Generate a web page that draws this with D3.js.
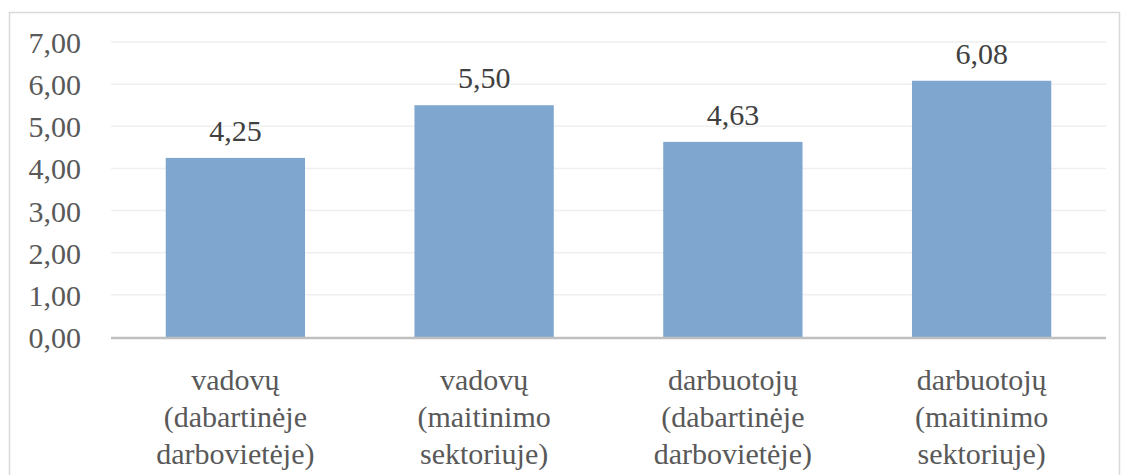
<!DOCTYPE html>
<html>
<head>
<meta charset="utf-8">
<script src="https://cdn.jsdelivr.net/npm/d3@7"></script>
</head>
<body style="margin:0">
<svg id="chart" width="1121" height="475"></svg>
<script>
// Average scores by group
const categories = [
  ["vadovų", "(dabartinėje", "darbovietėje)"],
  ["vadovų", "(maitinimo", "sektoriuje)"],
  ["darbuotojų", "(dabartinėje", "darbovietėje)"],
  ["darbuotojų", "(maitinimo", "sektoriuje)"]
];
const values = [4.25, 5.50, 4.63, 6.08];
const yTicks = [0, 1, 2, 3, 4, 5, 6, 7];

const svg = d3.select("#chart");
const plot = { left: 111, right: 1106, top: 42, bottom: 337 };
const fmt = v => d3.format(".2f")(v).replace(".", ",");

// Outer frame
svg.append("rect")
  .attr("x", 9.5).attr("y", 12.5)
  .attr("width", 1110).attr("height", 490)
  .attr("fill", "#fff").attr("stroke", "#d9d9d9").attr("stroke-width", 1.5);

const x = d3.scaleBand()
  .domain(d3.range(categories.length))
  .range([plot.left, plot.right])
  .paddingInner(0.44)
  .paddingOuter(0.22);

const y = d3.scaleLinear().domain([0, 7]).range([plot.bottom, plot.top]);

// Gridlines
svg.selectAll("line.grid")
  .data(yTicks.filter(t => t > 0))
  .join("line")
  .attr("class", "grid")
  .attr("x1", plot.left).attr("x2", plot.right)
  .attr("y1", d => y(d)).attr("y2", d => y(d))
  .attr("stroke", "#efefef").attr("stroke-width", 1.5);

// Bars
svg.selectAll("rect.bar")
  .data(values)
  .join("rect")
  .attr("class", "bar")
  .attr("x", (d, i) => x(i))
  .attr("width", x.bandwidth())
  .attr("y", d => y(d))
  .attr("height", d => y(0) - y(d))
  .attr("fill", "#7fa6cf");

// Baseline axis
svg.append("line")
  .attr("x1", plot.left).attr("x2", plot.right)
  .attr("y1", y(0) + 1).attr("y2", y(0) + 1)
  .attr("stroke", "#bfbfbf").attr("stroke-width", 2.5);

// All labels as plain text items: y ticks, bar values, category lines
const labels = [
  ...yTicks.map(t => ({ text: fmt(t), x: 81, y: y(t) + 11, anchor: "end", color: "#595959" })),
  ...values.map((v, i) => ({ text: fmt(v), x: x(i) + x.bandwidth() / 2, y: y(v) - 17, anchor: "middle", color: "#404040" })),
  ...categories.flatMap((lines, i) => lines.map((line, j) => ({
    text: line, x: x(i) + x.bandwidth() / 2, y: 390 + j * 37, anchor: "middle", color: "#595959"
  })))
];

svg.selectAll("text")
  .data(labels)
  .join("text")
  .attr("x", d => d.x)
  .attr("y", d => d.y)
  .attr("font-size", 30)
  .style("font-family", () => `"Liberation Serif"`)
  .style("text-anchor", d => d.anchor)
  .style("fill", d => d.color)
  .text(d => d.text);
</script>
</body>
</html>
